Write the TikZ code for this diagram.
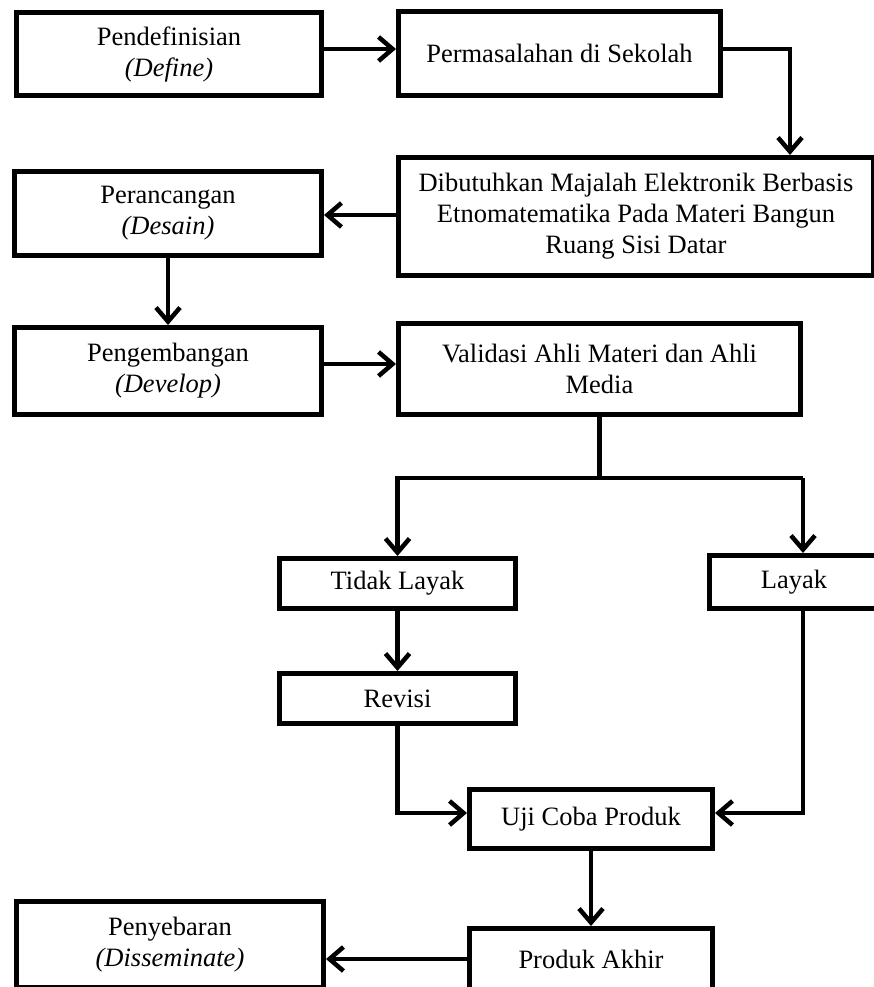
\documentclass[tikz,border=0pt]{standalone}
\usepackage{fontspec}
\setmainfont{Liberation Serif}
\usetikzlibrary{arrows.meta}
\begin{document}
\begin{tikzpicture}[x=1pt,y=-1pt,
  box/.style={draw,line width=5pt,rectangle,inner sep=0pt,align=center,
    font=\fontsize{26.5}{31}\selectfont},
  ln/.style={line width=4.5pt},
  arr/.style={line width=4.5pt,-{Straight Barb[length=14pt,width=24pt]}}]
\useasboundingbox (0,0) rectangle (874,987);
\clip (0,0) rectangle (874,987);
\node[box,minimum width=305pt,minimum height=83pt] (b1) at (169,54) {Pendefinisian\\\textit{(Define)}};
\node[box,minimum width=322pt,minimum height=84pt] (b2) at (559.5,53.5) {Permasalahan di Sekolah};
\node[box,minimum width=475pt,minimum height=118pt] (b3) at (636,216.5) {Dibutuhkan Majalah Elektronik Berbasis\\Etnomatematika Pada Materi Bangun\\Ruang Sisi Datar};
\node[box,minimum width=307pt,minimum height=84pt] (b4) at (168,213.5) {Perancangan\\\textit{(Desain)}};
\node[box,minimum width=307pt,minimum height=87pt] (b5) at (168,371) {Pengembangan\\\textit{(Develop)}};
\node[box,minimum width=402pt,minimum height=91pt] (b6) at (599.5,369) {Validasi Ahli Materi dan Ahli\\Media};
\node[box,minimum width=236pt,minimum height=50pt] (tl) at (397.5,583.5) {Tidak Layak};
\node[box,minimum width=169pt,minimum height=53pt] (ly) at (794,582) {Layak};
\node[box,minimum width=236pt,minimum height=50pt] (rv) at (397.5,698.5) {Revisi};
\node[box,minimum width=243pt,minimum height=59pt] (uji) at (591,819) {Uji Coba Produk};
\node[box,minimum width=243pt,minimum height=61pt] (pa) at (591,959) {Produk Akhir};
\node[box,minimum width=307pt,minimum height=86pt] (ps) at (170,944.5) {Penyebaran\\\textit{(Disseminate)}};
\coordinate (k1) at (790,0);
\coordinate (k2) at (803,0);
\coordinate (sp) at (600,478);
\coordinate (y1) at (0,49);
\coordinate (y3) at (0,215);
\coordinate (y5) at (0,364);
\coordinate (y7) at (0,813);
\draw[arr] (b1.east |- y1) -- (b2.west |- y1);
\draw[arr] (b2.east |- y1) -| (k1 |- b3.north);
\draw[arr] (b3.west |- y3) -- (b4.east |- y3);
\draw[arr] (b4.south) -- (b5.north);
\draw[arr] (b5.east |- y5) -- (b6.west |- y5);
\draw[ln] (b6.south) -- (b6.south |- sp);
\draw[arr] (k2 |- sp) -| (tl.north);
\draw[arr] (k2 |- sp) -- (k2 |- ly.north);
\draw[arr] (tl.south) -- (rv.north);
\draw[arr] (rv.south) |- (uji.west |- y7);
\draw[arr] (k2 |- ly.south) |- (uji.east |- y7);
\draw[arr] (uji.south) -- (pa.north);
\draw[arr] (pa.west) -- (ps.east |- pa.west);
\end{tikzpicture}
\end{document}
